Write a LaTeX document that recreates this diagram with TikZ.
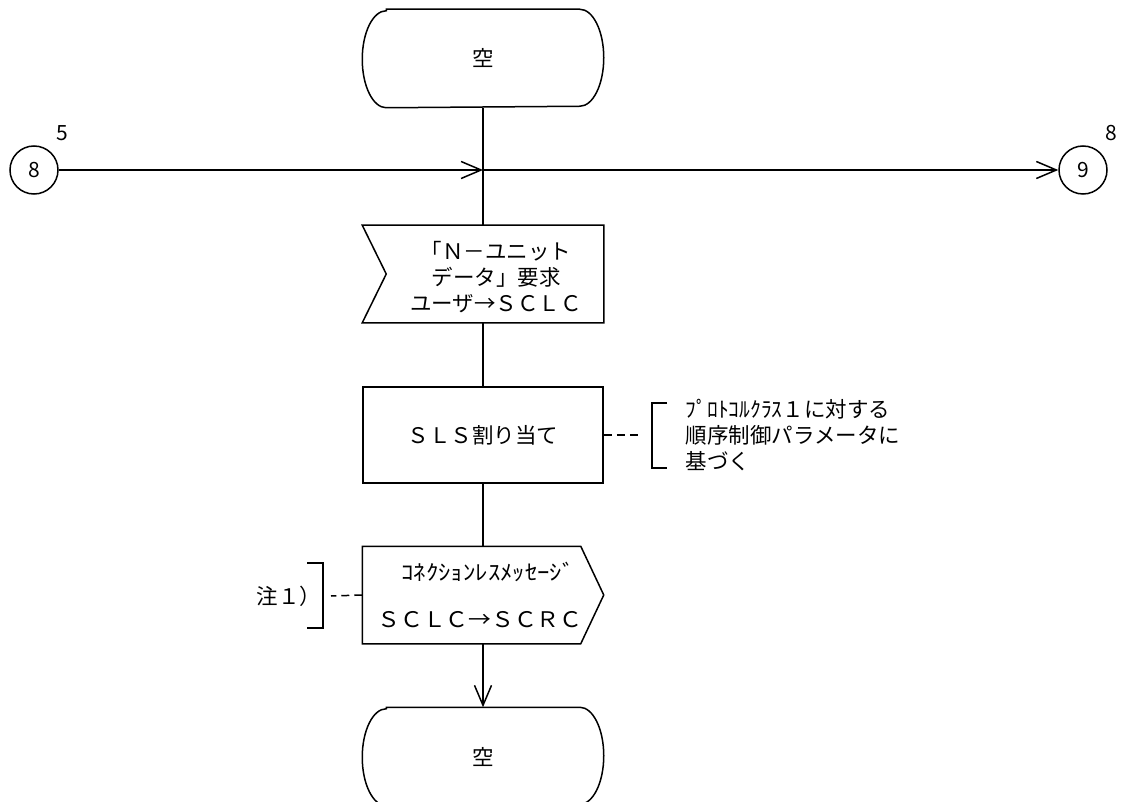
\documentclass[tikz,border=0pt]{standalone}
\usepackage{graphicx}
\usepackage{fontspec}
\setmainfont{Noto Sans CJK JP}
\usetikzlibrary{arrows.meta}
\begin{document}
\begin{tikzpicture}[x=1pt,y=-1pt,line width=1.5pt,
  jp/.style={font=\fontsize{21.5}{26}\selectfont,inner sep=0pt,align=center},
  boxnode/.style={minimum width=240pt,minimum height=96pt,inner sep=0pt},
  conn/.style={circle,draw,minimum size=48pt,inner sep=0pt,font=\fontsize{21}{24}\selectfont},
  arr/.style={-{Straight Barb[length=20pt,width=17pt,line width=1.5pt]}},
  dashline/.style={dash pattern=on 8pt off 5pt}]
\useasboundingbox (0,0) rectangle (1123,802);

% terminal states
\node[boxnode,minimum height=97pt,jp] (top) at (483,58.5) {空};
\draw ([xshift=24pt]top.north west) -- ([xshift=-24pt]top.north east)
  arc[start angle=90,end angle=-90,x radius=24pt,y radius=48.5pt]
  -- ([xshift=24pt]top.south west)
  arc[start angle=270,end angle=90,x radius=24pt,y radius=48.5pt] -- cycle;

\node[boxnode,minimum height=97pt,jp] (bot) at (483,756.5) {空};
\draw ([xshift=24pt]bot.north west) -- ([xshift=-24pt]bot.north east)
  arc[start angle=90,end angle=-90,x radius=24pt,y radius=48.5pt]
  -- ([xshift=24pt]bot.south west)
  arc[start angle=270,end angle=90,x radius=24pt,y radius=48.5pt] -- cycle;

% connectors (circles)
\node[conn] (c8) at (34,170) {8};
\node[conn] (c9) at (1083,170) {9};
\node[jp,font=\fontsize{21}{24}\selectfont] (l5) at (62,133) {5};
\node[jp,font=\fontsize{21}{24}\selectfont] (l8) at (1111,133) {8};
\coordinate (j) at (483,170);

% input signal
\node[boxnode] (inbox) at (483,274) {};
\draw (inbox.north west) -- (inbox.north east) -- (inbox.south east) -- (inbox.south west)
  -- ([xshift=24pt]inbox.west) -- cycle;
\node[jp] (intext) at (496,277) {「Ｎ－ユニット\\データ」要求\\ユーザ→ＳＣＬＣ};

% task
\node[boxnode,draw,jp] (sls) at (483,435) {ＳＬＳ割り当て};

% output signal
\node[boxnode] (outbox) at (483,595) {};
\draw (outbox.north west) -- ([xshift=-23pt]outbox.north east) -- (outbox.east)
  -- ([xshift=-23pt]outbox.south east) -- (outbox.south west) -- cycle;
\node[jp] (outt1) at (488,572) {\scalebox{1.15}[1]{ｺﾈｸｼｮﾝﾚｽﾒｯｾｰｼﾞ}};
\node[jp] (outt2) at (480,620) {\scalebox{1.06}[1]{ＳＣＬＣ→ＳＣＲＣ}};

% flow lines
\draw (top.south) -- (inbox.north);
\draw (inbox.south) -- (sls.north);
\draw (sls.south) -- (outbox.north);
\draw[arr] (outbox.south) -- (bot.north);
\draw[arr] (c8.east) -- (j);
\draw[arr] (j) -- (c9.west);

% comments
\coordinate (d1) at (642,435);
\draw[dashline] (sls.east) -- (d1);
\draw (667,403) -- (652,403) -- (652,468) -- (667,468);
\node[jp,align=left,anchor=west] (note) at (685,435) {ﾌﾟﾛﾄｺﾙｸﾗｽ１に対する\\順序制御パラメータに\\基づく};

\coordinate (d2) at (331,596);
\draw[dashline] (outbox.west) -- (d2);
\draw (307,563) -- (323,563) -- (323,628) -- (307,628);
\node[jp,anchor=east] (note1) at (322,596) {注１）};
\end{tikzpicture}
\end{document}
